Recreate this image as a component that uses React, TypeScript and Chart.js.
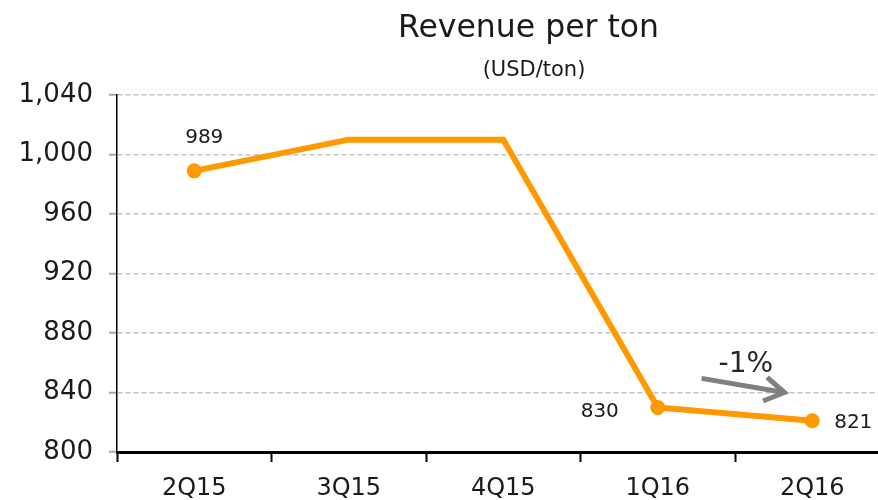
import React, { useEffect, useRef } from 'react';
import { Chart, registerables } from 'chart.js';

Chart.register(...registerables);

const categories = ['2Q15', '3Q15', '4Q15', '1Q16', '2Q16'];
const revenuePerTon = [989, 1010, 1010, 830, 821];
const pointLabels = ['989', '', '', '830', '821'];
const markerShown = [true, false, false, true, true];
const yMin = 800;
const yMax = 1040;
const yStep = 40;
const titleText = 'Revenue per ton';
const subtitleText = '(USD/ton)';
const changeLabel = '-1%';

const FONT = '"DejaVu Sans", Verdana, sans-serif';
const ORANGE = '#FF9900';
const TEXT = '#1a1a1a';

const overlayPlugin = {
  id: 'overlay',
  afterDatasetsDraw(chart: any) {
    const ctx = chart.ctx;
    const xs = chart.scales.x;
    const ys = chart.scales.y;
    ctx.save();
    // titles
    ctx.fillStyle = TEXT;
    ctx.textAlign = 'center';
    ctx.textBaseline = 'alphabetic';
    ctx.font = `31.5px ${FONT}`;
    ctx.fillText(titleText, 528.5, 37);
    ctx.font = `21px ${FONT}`;
    ctx.textBaseline = 'middle';
    ctx.fillText(subtitleText, 534, 71);

    // data labels
    ctx.font = `20px ${FONT}`;
    const offsets: Record<number, [number, number]> = {
      0: [10, -33],
      3: [-58, 4],
      4: [41, 2],
    };
    pointLabels.forEach((lab, i) => {
      if (!lab) return;
      const px = xs.getPixelForValue(i);
      const py = ys.getPixelForValue(revenuePerTon[i]);
      const o = offsets[i] || [0, -20];
      ctx.fillText(lab, px + o[0], py + o[1]);
    });

    // change arrow
    const x0 = xs.getPixelForValue(3.284);
    const y0 = ys.getPixelForValue(849.5);
    const x1 = xs.getPixelForValue(3.82);
    const y1 = ys.getPixelForValue(840);
    ctx.strokeStyle = '#808080';
    ctx.lineWidth = 5;
    ctx.lineCap = 'butt';
    ctx.lineJoin = 'miter';
    ctx.beginPath();
    ctx.moveTo(x0, y0);
    ctx.lineTo(x1 - 3, y1 - 0.5);
    ctx.stroke();
    const ang = Math.atan2(y1 - y0, x1 - x0);
    const len = 23;
    const spread = 0.55;
    ctx.beginPath();
    ctx.moveTo(x1 - len * Math.cos(ang - spread), y1 - len * Math.sin(ang - spread));
    ctx.lineTo(x1, y1);
    ctx.lineTo(x1 - len * Math.cos(ang + spread), y1 - len * Math.sin(ang + spread));
    ctx.stroke();

    ctx.fillStyle = '#262626';
    ctx.font = `28px ${FONT}`;
    ctx.textAlign = 'center';
    ctx.textBaseline = 'middle';
    ctx.fillText(changeLabel, xs.getPixelForValue(3.57), ys.getPixelForValue(858.5));
    ctx.restore();
  },
};

export default function App() {
  const ref = useRef<HTMLCanvasElement>(null);
  useEffect(() => {
    if (!ref.current) return;
    const chart = new Chart(ref.current, {
      type: 'line',
      data: {
        labels: categories,
        datasets: [
          {
            data: revenuePerTon,
            borderColor: ORANGE,
            backgroundColor: ORANGE,
            borderWidth: 6,
            pointRadius: markerShown.map((m) => (m ? 7.5 : 0)),
            pointHoverRadius: markerShown.map((m) => (m ? 7.5 : 0)),
            pointBorderWidth: 0,
            pointBackgroundColor: ORANGE,
            tension: 0,
            fill: false,
          },
        ],
      },
      options: {
        animation: false,
        responsive: false,
        events: [],
        layout: { padding: { top: 95, right: 2, left: 0, bottom: 0 } },
        plugins: {
          legend: { display: false },
          tooltip: { enabled: false },
          title: { display: false },
        },
        scales: {
          x: {
            offset: true,
            afterFit: (s: any) => {
              s.height = 48;
            },
            grid: {
              offset: true,
              drawOnChartArea: false,
              drawTicks: true,
              tickLength: 10,
              tickColor: '#000',
              tickWidth: 2,
            },
            border: { display: true, color: '#000', width: 3 },
            ticks: {
              color: TEXT,
              font: { family: FONT, size: 24 },
              padding: 12,
              maxRotation: 0,
            },
          },
          y: {
            min: yMin,
            max: yMax,
            afterFit: (s: any) => {
              s.width = 117;
            },
            grid: {
              color: '#c4c4c4',
              lineWidth: 1.5,
              drawTicks: true,
              tickLength: 8,
              tickColor: '#a6a6a6',
              tickWidth: 2,
            },
            border: { display: true, color: '#000', width: 1.5, dash: [5, 3] },
            ticks: {
              stepSize: yStep,
              color: TEXT,
              font: { family: FONT, size: 26 },
              padding: 16,
              callback: (v: any) => Number(v).toLocaleString('en-US'),
            },
          },
        },
      },
      plugins: [overlayPlugin],
    });
    return () => chart.destroy();
  }, []);
  return (
    <div style={{ position: 'fixed', left: 0, top: 0, width: 878, height: 500, overflow: 'hidden', background: '#fff' }}>
      <canvas ref={ref} width={897} height={500} style={{ display: 'block', width: 897, height: 500 }} />
    </div>
  );
}
